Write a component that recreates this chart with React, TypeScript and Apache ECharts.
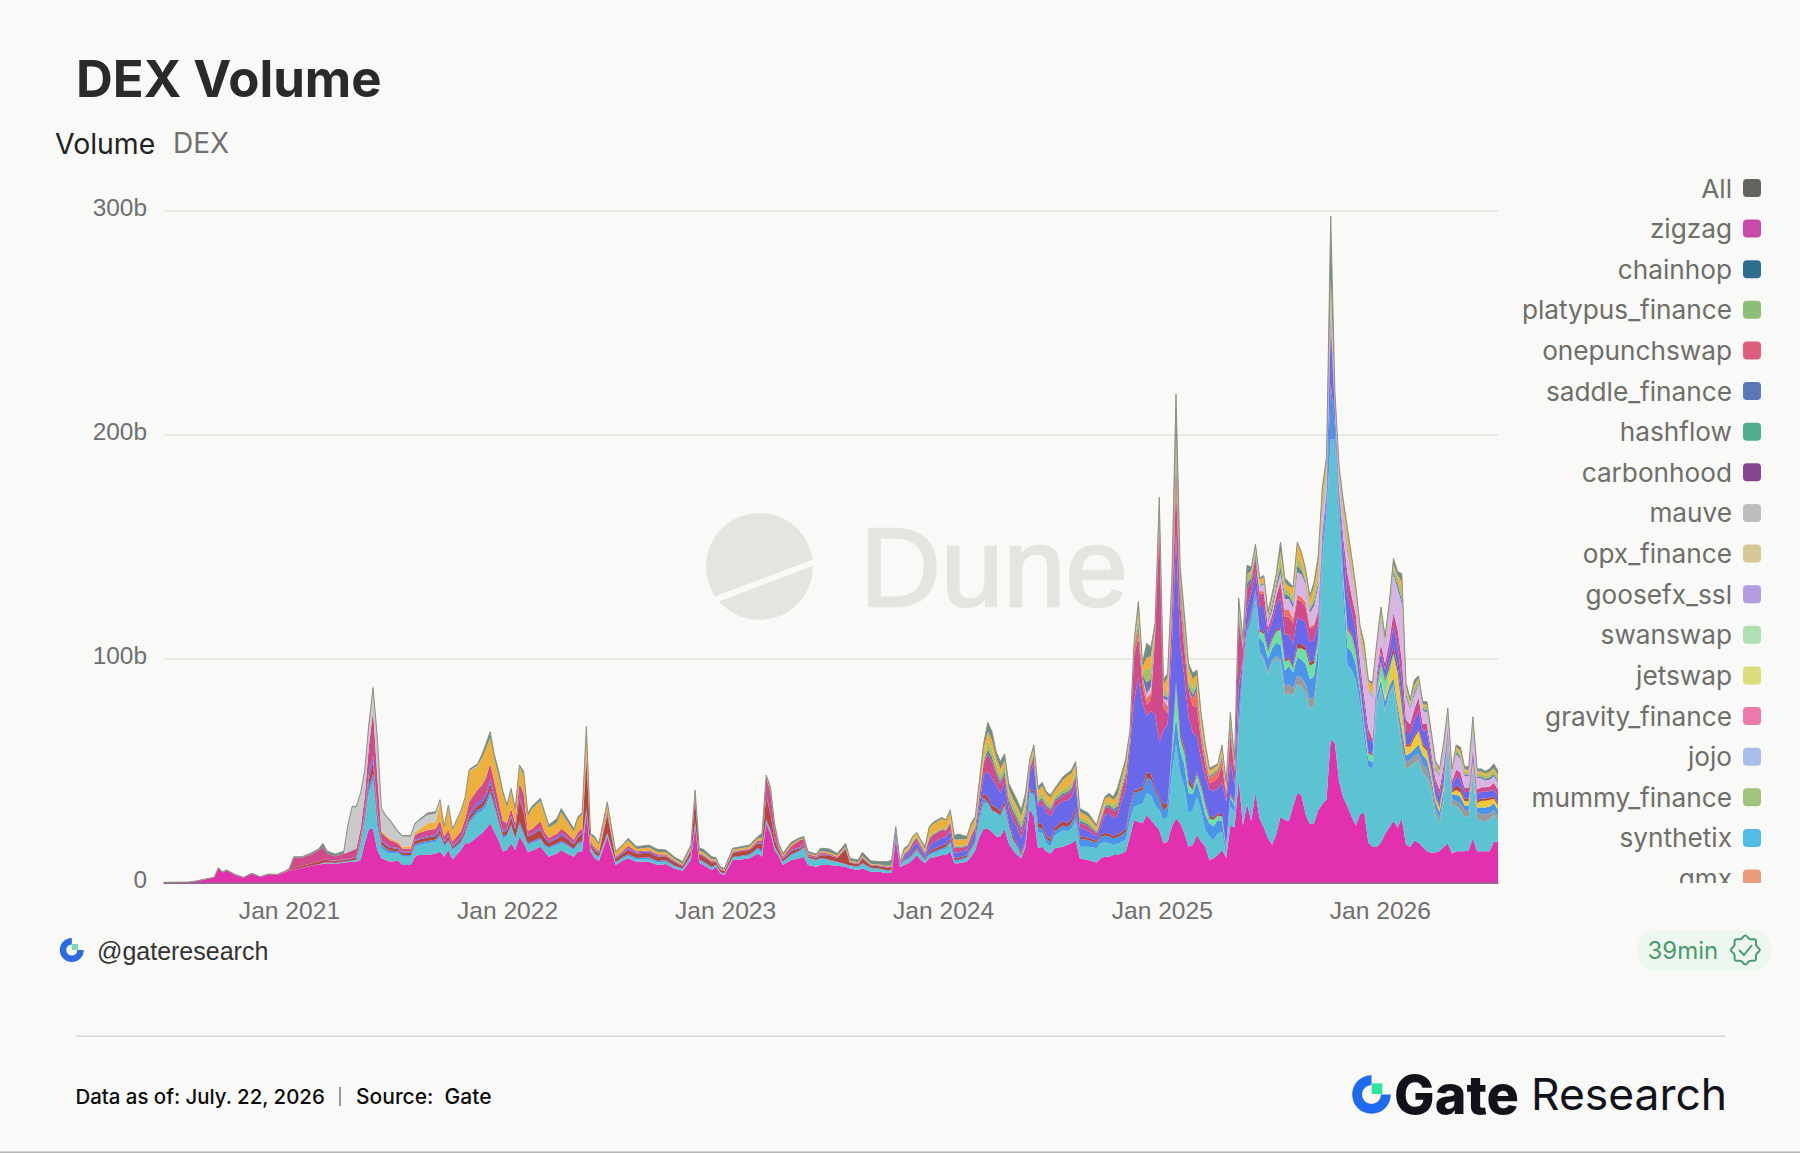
import React, { useEffect, useRef } from "react";
import * as echarts from "echarts";

const BG = "#F9F9F7";
const blank = (n: number): number[] => new Array(n).fill(0);

// Weeks counted from the first bar of the chart (5 Jun 2020); ten per line in every array below.
const weeks = [
  0,6,8,10,12,13,14,15,17,19,
  21,23,25,27,29,30,31,33,35,37,
  38,39,41,43,44,45,46,47,48,49,
  50,51,52,53,54,56,57,59,60,61,
  63,65,66,67,68,69,71,72,73,75,
  76,77,78,79,80,81,82,83,84,85,
  86,87,88,90,91,92,94,95,96,98,
  99,100,101,102,103,104,106,108,110,111,
  113,116,118,120,122,124,126,127,128,129,
  131,132,133,134,136,138,140,142,143,144,
  145,146,147,148,150,152,153,154,156,157,
  159,161,163,164,166,167,169,171,173,174,
  175,176,177,178,179,180,181,182,183,184,
  186,187,188,189,190,192,193,194,195,196,
  197,198,199,200,201,202,203,204,205,206,
  207,208,209,210,211,212,213,215,216,217,
  218,219,221,223,224,225,226,227,228,229,
  230,231,232,233,234,235,236,237,238,239,
  240,241,242,243,244,245,246,247,248,249,
  250,251,252,253,254,255,256,257,258,259,
  260,261,262,263,264,265,266,267,268,269,
  270,271,272,273,274,275,276,277,278,279,
  280,281,282,283,284,285,286,287,288,289,
  290,291,292,293,294,295,296,297,298,299,
  300,301,302,303,304,305,306,307,308,309,
  310,311,312,313,314,315,316,317,318,319,
];

const allVolume = [
  0.1,0.2,0.8,1.6,2.3,6.6,4.8,5.6,3.6,2.3,
  4.1,2.6,3.8,3.6,5.1,6.3,11.5,11.5,13,15,
  17.5,14,12.7,14,26,34,34,40,50,71,
  87,65,33,30,28,22.7,21,21,26.4,28,
  31,31.6,37,25,34.6,24,32,38,50.5,53,
  57,62,67.3,57,50,41,34.6,42,33,52.5,
  49.5,31,34,37.6,31.6,25.7,28.6,33,30,24,
  29.4,31,69.6,22,20.5,17.5,36,13.8,17.5,19.7,
  16,16.7,14.8,14.5,11.5,9.3,16.7,41.3,15.3,14.8,
  11.5,11,7,6.3,15.3,16,16.7,20.5,22,48,
  42.8,26.4,17.5,13,18,20,20.5,13.8,12.7,15.3,
  15,13,17.5,10.8,10,13.5,9.7,9.3,9.3,10,
  25,9.3,15.3,16.7,20.5,22.3,19,16,25,27,
  29,28,32.4,21,21.6,20.5,26.4,29.4,45.8,62,
  71.5,67.3,58.4,54,57.4,44.3,40.5,36.8,32.4,39.8,
  54.7,61.4,42.8,44.7,40.5,39,42,47.2,48.7,50.2,
  54,33,31,25.7,32.4,38.3,39.8,38.3,42,48.7,
  55.4,68,108,125.4,97.8,106.8,105,115.7,172,90.4,
  93.4,135,218,141,120,97.8,93.4,94.9,75.5,62,
  51,52,53,61.4,45,76,54.6,127,108.8,141.7,
  140.7,151,136,137,121,129,138,152,136,134,
  132,152,147.5,139.8,128,134,145.6,176.5,190,297.5,
  219,186,170.7,158,145.6,132,114.6,106.9,90.4,89.4,
  106.9,123,109.8,125,144.6,138.8,137.8,89.4,81.7,90.4,
  92.3,80.7,80.7,68,54.6,50.7,62.3,77.8,50.7,61.4,
  60.4,51.7,51.7,74,50.7,50.7,49.7,50.7,53,49.7,
];

const magentaLayer = [
  0,0.2,0.7,1.5,2.2,6.2,4.5,5.3,3.3,2.1,
  3.8,2.4,3.5,3.3,4.6,5.2,5.6,6.6,7.4,8,
  8.3,8.6,8.3,8.9,9,9.3,9.3,10,17.5,24,
  24,14.5,10.8,10,9.3,9.7,7.8,7.8,11.5,12.3,
  12.3,13,13.8,11.5,14.5,10.3,14.5,17.5,17.5,20.5,
  22,24,26.4,22.7,19,13.8,14.5,17.5,14.5,20.5,
  17.5,13.5,14.2,16,13.8,11.5,13,14.5,13.3,11.5,
  13.8,13.8,31,13.8,10.8,9.6,20.5,7.8,10,10.8,
  9.3,9.3,7.8,8.3,6.3,5.3,10,25,8.8,7.8,
  5.6,7,4.1,3.3,10,10.3,10.8,13,11.5,26.4,
  22,14.5,11.8,7.8,10,10.8,11.5,7.8,7,7.8,
  7.8,7.5,7,6.3,5.6,6.3,4.8,4.8,4.1,4.4,
  19,6.8,7.8,8.6,10,12.3,10,8.6,10.8,11.2,
  12.3,12.3,13.8,8.6,8.6,9.3,11.5,14.5,20.5,24,
  24,22.7,20.5,20.5,24,17.5,14.5,12.3,10.8,16,
  33,29.4,15.3,16,13.8,13,15.3,16,16.7,17.5,
  19,10.8,10,8.9,10.8,11.5,11.5,12.3,12.3,13,
  13.8,20.5,27.9,27,26.4,30,27.9,25.7,23.4,17.5,
  18.2,24.9,28.6,26.4,21.9,16,16.7,21.2,18.2,16,
  10,10.8,12.3,14.5,11,25.5,24.6,46,25.5,35,
  27.5,40,28.5,24.6,19.7,16.8,21.7,29.4,27.9,27.5,
  34,40,39,30.4,26,26.5,32.3,35,37,64,
  62,45,38,34,29.4,25.5,30.4,31.4,17.8,15.9,
  15.9,17.8,21.7,24.6,27.5,24.6,28.5,16.8,15.9,18.8,
  17.8,15.9,13.9,13.4,13.4,13.9,15.9,17.4,13,13.9,
  13.9,13.9,14.3,19.7,13.9,13.9,13.9,13.9,18.2,18.2,
];

const cyanLayer = [
  ...blank(20),
  0.2,0.2,0.2,0.3,0.3,0.4,0.6,7.5,10,16,
  21.7,10.5,4.5,3.8,3.7,3.3,3.7,3.7,4.5,4.4,
  5.2,5.2,6.7,4.5,3.7,4.2,3,3.7,9,10.5,
  9.6,10,12.7,10.4,7.5,6,6,7.5,4.5,5.2,
  3.5,3.2,3.3,3,2.4,3.8,3.7,3,3.5,3,
  3.2,3.7,1,1.5,1.5,1.5,1,1,1,1,
  1,1.2,1.2,1,0.8,0.6,1.4,1,1,1,
  0.8,0.6,0.4,0.5,1,1.2,1.2,1.8,1.8,1,
  1,1,0.8,1.2,2,3,4,3,2.8,2.8,
  2,1.5,1,1,1.2,2,1.5,1.2,1,1,
  0.6,0.6,1.6,1.8,2,2,1.8,1.2,1.4,1.8,
  2.2,2.9,3.7,1,1,1.5,3,3,7.5,11.3,
  11.3,9,10.5,9,10,7.5,4.5,3.7,1,1.5,
  7,9.6,7.4,6,3.7,3,5.7,7.4,6,6.5,
  9,5.2,6,6.4,6.7,6.5,6,4.4,4.9,5.2,
  5.2,7.4,6,7.6,8.9,9.8,11.1,8.9,9,10.4,
  11.2,23.8,33.4,22.3,20.9,14.9,15.7,17.1,14.2,7.4,
  10.5,8.2,9.6,8,1,8.5,6.4,22,69.5,76.7,
  89,87,74.5,74.4,73.3,81.2,78.3,69.6,55.7,57.1,
  49.6,48.5,48.5,54.2,51.8,52.3,62.7,110.6,128,133.8,
  135.8,120,88,63,65.6,64.9,49.4,32.9,33.9,34.8,
  61.9,68.7,54.2,59,60,49.4,30,33.9,35.8,34.8,
  36.8,32.9,32.9,27.6,17,12.6,20.3,44.6,21.3,20.4,
  18.4,15.5,15.1,29.1,14.6,13.6,13.6,14,12.2,9.3,
];

const grayLayer = [
  ...blank(200),
  0,0,0,1,1,1.5,1,1,4,4,
  3,4,4,4,4,4,2,0,0,0,
  ...blank(10),
  1,1,1,1,1,2,4,3,3,3,
  3,4,4,3,3,2,2,1,3,2,
  3,3,3,1,3,3,3,3,2,2,
];

const blueLayer = [
  ...blank(16),0.1,0.1,0.1,0.2,
  0.3,0.2,0.2,0.2,0.2,0.2,0.3,0.4,0.8,3,
  3,2.5,1.5,1.5,1.2,1,0.8,0.8,1,1,
  1,1,1.2,0.8,0.8,0.6,0.8,1,1.2,1.5,
  1.6,1.8,2,1.8,1.2,1,0.8,1,0.8,1.5,
  1.2,0.8,0.8,1,0.8,0.6,0.8,1,0.8,0.6,
  0.8,1,1,0.4,0.6,0.5,0.6,0.4,0.7,0.8,
  0.6,0.8,0.6,0.6,0.5,0.3,0.6,1,0.5,0.6,
  0.5,0.4,0.3,0.2,0.4,0.4,0.5,0.7,1,1,
  0.8,0.6,0.4,0.3,0.6,0.5,0.5,0.3,0.3,0.4,
  0.4,0.3,0.3,0.3,0.3,0.4,0.3,0.3,0.3,0.3,
  0.3,0.2,0.4,0.4,0.5,0.5,0.4,0.3,0.6,0.8,
  0.8,0.8,0.8,0.6,0.6,0.6,0.6,0.8,2,2.5,
  0.6,0.5,0.5,0.5,0.5,0.4,0.4,0.3,0.3,0.3,
  1,1,2,2,2,2,2,2,2,2.5,
  3,3.5,3,2.5,2.8,3,3,3,3,3,
  3.5,5,6,6,6,7,7,6,5,4,
  5,8,12,10,10,9,7,7,6,7,
  6,6,6,5,3,4,3,6,2,2,
  3,3,6,7,6,5,6,6,7,8,
  7,8,8,9,9,9,8,6,5,25,
  6,4,8,8,8,7,5,5,3,3,
  4,3,4,3,3,3,6,3,3,3,
  4,4,4,3,3,3,3,1,2,3,
  3,2,2,2,2,3,3,3,3,3,
];

const yellowLayer = [
  ...blank(230),
  0,1,2,5,9,13,7,4,3,5,
  6,4,4,3,2,2,2,1,1,2,
  2,2,2,2,2,3,3,3,2,2,
];

const mintLayer = [
  ...blank(180),
  0,2,14,6,5,4,2,3,4,4,
  2,3,2,2,0.5,1,1,0,0,0,
  0,0,3,4,3,4,5,7,4,3,
  2,4,5,6,6,6,3,0,0,0,
  0,0,3,8,7,5,2,2,3,3,
  3,6,7,3,2,2,3,0,0,0,
  ...blank(20),
];

const brownLayer = [
  ...blank(14),0.1,0.2,0.8,0.8,0.9,1.2,
  1.2,1,0.8,0.8,0.8,0.9,1,1.5,2,3,
  5,3,1.5,1.5,1.3,1,1,1,1.5,1.5,
  1.6,1.6,1.8,1.2,1.5,1,1.2,1.5,1.8,2,
  2.2,2.4,3,2.5,2,1.5,2,3,4,10,
  9,3,3,3.5,3,2,2,2.5,2.5,2,
  2.5,3,22,1.5,1.5,1.5,8,1.5,1.6,2,
  2,2,2,1.8,1.6,1.2,2,10,2.2,2.2,
  2,1.2,1,1,1.8,2,2,2,3,10,
  7,3,1.6,1.2,1.5,1,1,0.6,0.8,1.2,
  2,1.6,6.5,1.2,1,2,1,1,1.2,1.2,
  0.3,0.3,0.5,0.6,0.8,0.8,0.7,0.5,1,1.2,
  1.2,1.2,1.2,0.8,0.8,0.8,0.8,1,1.5,2,
  2.5,2.2,2,1.8,2,1.5,1.5,1.2,1,1,
  0.8,0.8,2,2,1.5,1.3,1.5,2,1.8,1.8,
  2,1.2,1,0.8,1,1.2,1.2,1.2,1.3,1.3,
  1.5,1.5,1.5,1,1.5,2.5,2.5,1.5,1,3,
  1,1,1.5,2,2,2,1.5,1,1,1,
  1,1,1,1,0.5,1,0.5,1,1,1,
  1,1,1,1,1,1,1,1,1,1,
  1,2,2,1.5,1.5,1.5,1,0,0,0,
  0,0,0,1,1,1,1,1,1,0.5,
  1,1,1,2,3,3,3,1,1,1,
  1,1,1,1,1,1,1,1,1,2,
  2,1,1,1,1,1,1,1,1,1,
];

const indigoLayer = [
  ...blank(20),
  0.2,0.2,0.2,0.2,0.2,0.3,0.4,0.6,1,3,
  3,2,0.5,0.5,0.5,0.4,0.4,0.4,0.5,0.5,
  0.6,0.6,1,0.5,0.5,0.4,0.6,1,1.2,1.4,
  1.5,1.6,2,1.6,1.2,0.8,0.6,0.8,0.5,1,
  0.8,0.6,0.6,0.8,0.6,0.5,0.8,1,0.6,0.5,
  0.6,0.6,1,0.4,0.5,0.3,0.5,0.3,0.5,0.6,
  0.5,0.6,0.5,0.4,0.3,0.2,0.4,0.8,0.3,0.4,
  0.3,0.2,0.1,0.1,0.3,0.3,0.3,0.5,0.6,0.6,
  0.5,0.4,0.2,0.2,0.4,0.4,0.4,0.2,0.2,0.3,
  0.3,0.2,0.2,0.2,0.2,0.3,0.2,0.2,0.2,0.2,
  2.5,0.4,1.2,1.5,2.5,2.5,2,1.5,2.5,3,
  3.5,3,3.5,2.5,2.5,2.2,2.8,3,3.5,8,
  11,12,10,8,8,6,7,7,6.5,7,
  7,12,7,9,10,10,9,9,10,10,
  11,4,3,2,4,8,9,8,8,14,
  18,26,40,50,37,25,28,33,24,33,
  35,45,66,40,32,28,24,16,12,12,
  12,12,11,14,20,14,8,12,2,8,
  9,8,10,11,7,7,11,13,11,10,
  10,12,11,11,9,9,7,3,3,25,
  6,4,12,14,10,9,6,7,6,5,
  3,4,4,6,9,8,9,5,5,7,
  8,6,8,5,4,4,5,2,2,4,
  4,3,3,3,3,3,3,3,3,3,
];

const crimsonLayer = [
  ...blank(14),0.2,0.6,4.5,3.6,4,5,
  5.5,2.6,2,2.4,3,3.2,3.5,4,7,12,
  20,15,3.5,3.2,3,2,1.5,1.5,2.2,2.5,
  2.6,2.6,3.2,2,2.5,1.8,2.8,3.5,5.5,5.5,
  6.5,7,7,6,5.5,4.5,2.5,3.2,2,6,
  8,2,2,3,2,1.5,1.5,2,2,1.5,
  1.6,1.8,2,0.6,0.8,0.6,1.5,0.5,0.8,1.2,
  0.5,0.5,0.5,0.4,0.3,0.2,0.4,0.8,0.3,0.4,
  0.4,0.3,0.2,0.1,0.3,0.3,0.4,0.8,1,8,
  9,5,1.2,0.8,1.8,3.2,2,0.8,0.5,1,
  0.5,0.4,0.4,0.3,0.3,0.4,0.2,0.2,0.3,0.3,
  1.2,0.3,1,1.2,1.6,1.6,1.2,1,3,3.2,
  3.5,3,3.5,2,2,1.6,2,2.2,3.5,5,
  8,7.5,5,4,3.5,3,3,3,3,3.5,
  2,3,1.5,2,2.5,2.5,2.5,2.5,3,3,
  3,2,2,1.4,2,3,3,3,3,4,
  5,4,20,18,8,5,5,35,95,10,
  5,15,22,18,12,12,12,13,8,5,
  3,4,5,8,3,12,6,30,4,8,
  5,6,6,6,3,3,4,7,8,8,
  9,8,8,7,6,6,5,2,2,5,
  2,3,5,10,7,7,5,4,4,1.5,
  3,4,3,4,6,8,9,6,4,5,
  6,3,3,3,3,3,3,1,2,3,
  3,2,2,2,2,2,2,2,3,3,
];

const coralLayer = [
  ...blank(170),
  0,0,3,4,4,3,3,0,5,4,
  3,5,10,6,4,0,3,8,3,3,
  2,3,3,3,1,3,1,0,0,0,
  0,0,1,1,0,0,0,1,3,3,
  2,2,2,2,1,1,1,0,0,0,
  ...blank(40),
];

const lavenderLayer = [
  ...blank(170),
  0,0,0,0,0,2,3,0,0,0,
  3,0,0,0,0,0,0,0,0,0,
  ...blank(10),
  0,0,2,3,2,2,3,3,5,5,
  5,10,10,8,6,8,10,8,6,5,
  3,4,8,10,10,7,10,15,17,19,
  11,11,8,13,17,18,25,10,7,6,
  6,6,5,5,4,6,6,5,3,7,
  6,5,5,8,5,4,3,3,3,3,
];

const slateLayer = [
  ...blank(120),
  0.2,0.1,0.3,0.3,0.4,0.4,0.4,0.3,0.4,0.4,
  0.3,0.3,0.4,0.3,0.3,0.3,0.4,0.4,0.8,1,
  2,2,1.5,1.5,1.5,1.5,1.5,1.5,2,2,
  0.5,1,1,1,1,1,1,1,1,1,
  1,1,1,0.5,0.8,0.7,1,1,1.5,1.5,
  1.5,0.5,1,2,1,5,3.5,1.5,2,1.5,
  1.5,3,6,3,3.5,2,2,1.5,1.5,1,
  0.8,0.8,0.5,1,0.8,1.5,1,2,1,3,
  1.5,1.5,0.5,0.5,1,2,2,3,2,1.5,
  2,3,2,1,1.5,2,2,1.5,1,3,
  0.5,1,1.5,1.5,1,0.6,0.6,1.5,0.4,0.6,
  0.5,1,0.8,1,1.5,2,2,1.5,0.8,1.5,
  0.7,0.7,1,0.5,0.8,0.6,0.8,0.8,0.4,1,
  1,0.8,0.8,1.2,0.8,0.8,0.8,1,1,1,
];

const oliveLayer = [
  ...blank(120),
  0.3,0.1,0.6,0.5,0.8,0.6,0.6,0.5,0.6,0.6,
  0.6,0.6,0.8,0.6,0.6,0.6,0.8,0.8,1.2,1.5,
  4,3.5,3,3,3,2.5,3,3,3,3,
  1,1.5,2,2,2,2,1.5,2,2,2,
  1.5,1.5,1.5,0.8,1,1,1.3,1.5,2.5,2,
  2.5,0.8,1.5,3,1.5,6,5,2,3,2,
  2.5,4,8,4,5,3,3,2,2.5,1.5,
  1.2,1.2,1,1.5,1.2,2.5,1.5,3,2,4,
  2,2,0.8,0.8,1.5,2.5,2.5,5,2.5,2,
  3,4,3,1.5,2,2.5,3,2,2,4,
  0.8,1.5,2,2,1.5,1,1,2,0.6,1,
  0.8,1.5,1,1.2,2,3,3,2,1,2,
  1,1,1.5,0.8,1.2,0.8,1.2,1,0.5,1.3,
  1.5,1.2,1.2,2,1.2,1.2,1.2,1.5,1.5,1.5,
];

const goldLayer = [
  ...blank(30),
  0,1,0.8,0.8,0.8,0.8,0.8,1,1.2,1.5,
  3,3,8.5,3.5,10,4.8,8.3,9.5,13.5,10.5,
  12,13,11.5,10,11.5,12,7,8,6,7.5,
  8,6.5,9,9.2,7.6,4.5,5,7.5,5.8,3.6,
  6,6.5,9,3,3.8,2.8,2.8,1.8,2.6,2.4,
  1,1.2,1,1,0.8,0.6,0.8,0.8,1,1,
  0.8,0.6,0.3,0.4,0.8,0.8,0.8,0.8,1,0.5,
  0.5,0.5,0.6,0.6,0.8,0.4,0.4,0.4,0.4,0.5,
  0.6,0.5,0.6,0.4,0.4,0.5,0.4,0.3,0.4,0.4,
  0.3,0.2,1,1.2,1.5,1.4,1.2,0.8,4,4,
  4,3.5,4,2.8,2.8,2.4,3.2,2.8,4,5,
  4,4,3,2.5,2,2,2,2,2,2.5,
  1.5,1.5,3,3,3,3,2.5,4,5,4.5,
  3,2.5,2,1.4,2,2.5,2.5,2.5,2.5,2.5,
  2.5,1.5,0,3,2,5,5,0,0,3,
  6,0,0,0,0,5,4,3,3,3,
  1.5,1,1,2,2,1,1,2,0,0,
  1,1,2,2,1,1,1,2,3,2,
  4,6,5,3,3,4,6,6,4,5,
  2,2,3,5,4,3,3,3,3,4,
  1,1,1,1,1,1,5,1,1,1,
  1,1,1,1,1,1,1,1,1,1,
  1,1,1,1,1,1,1,1,1,1,
];

const lightGrayLayer = [
  ...blank(24),
  12,19.3,18.5,15.5,11,9.5,
  9.5,15,9.3,8.2,7.7,3.9,4.5,4.2,3.5,3.8,
  4,3.8,0.4,0.2,0.3,0.2,0.2,0.1,0.2,0.3,
  ...blank(210),
];

const layers: [string, string, number[]][] = [
  ["layerMagenta", "#E230AE", magentaLayer],
  ["layerCyan", "#5CC3D2", cyanLayer],
  ["layerGray", "#9A9A9E", grayLayer],
  ["layerBlue", "#4A94EA", blueLayer],
  ["layerYellow", "#EFC93C", yellowLayer],
  ["layerMint", "#6EE0A0", mintLayer],
  ["layerBrown", "#B5453F", brownLayer],
  ["layerIndigo", "#6A68EA", indigoLayer],
  ["layerCrimson", "#D14A8C", crimsonLayer],
  ["layerCoral", "#F0705A", coralLayer],
  ["layerLavender", "#D9B5E6", lavenderLayer],
  ["layerSlate", "#5F7FA8", slateLayer],
  ["layerOlive", "#A8C060", oliveLayer],
  ["layerGold", "#EDB03C", goldLayer],
  ["layerLightGray", "#CACACA", lightGrayLayer],
];

const legendNames = ["All","zigzag","chainhop","platypus_finance","onepunchswap","saddle_finance","hashflow","carbonhood","mauve","opx_finance","goosefx_ssl","swanswap","jetswap","gravity_finance","jojo","mummy_finance","synthetix","gmx"];
const legendColors = ["#62625E","#C84BA8","#2E6E8E","#8CBE78","#DE5C7C","#5A78B4","#4EAE8C","#84448E","#BDBDBD","#D6C896","#B49AE0","#AEE0B4","#DCDC78","#EC78AC","#A8BEE8","#A0C47C","#50BCE8","#EC9C78"];

const START = Date.UTC(2020, 5, 5);
const WEEK = 7 * 24 * 3600 * 1000;
const dates = weeks.map((w) => START + w * WEEK);

const ICON = "path://M4 0H14A4 4 0 0 1 18 4V14A4 4 0 0 1 14 18H4A4 4 0 0 1 0 14V4A4 4 0 0 1 4 0Z";

function txt(text: string, x: number, y: number, fontSize: number, fill: string, extra: any = {}) {
  return {
    type: "text", x, y, z: 6,
    style: { text, fontSize, fill, fontFamily: "Inter", fontWeight: 400, textAlign: "left", textVerticalAlign: "middle", ...extra },
  };
}

function badgePoints(cx: number, cy: number) {
  const pts: number[][] = [];
  for (let i = 0; i < 16; i++) {
    const r = i % 2 === 0 ? 14.5 : 11.8;
    const a = (i * Math.PI) / 8;
    pts.push([cx + r * Math.cos(a), cy + r * Math.sin(a)]);
  }
  return pts;
}

function xLabel(v: number) {
  const d = new Date(v);
  return d.getUTCMonth() === 0 && d.getUTCDate() === 1 ? `Jan ${d.getUTCFullYear()}` : "";
}

export default function App() {
  const ref = useRef<HTMLDivElement>(null);
  useEffect(() => {
    document.body.style.margin = "0";
    const chart = echarts.init(ref.current!, undefined, { renderer: "svg" });
    const stacked = layers.map(([name, color, values]) => ({
      name, type: "line", stack: "dex", stackStrategy: "all", color, symbol: "none", showSymbol: false,
      lineStyle: { width: 0 }, areaStyle: { color, opacity: 1 }, silent: true,
      data: dates.map((d, i) => [d, values[i] ?? 0]),
    }));
    const rest = allVolume.map((t, i) => Math.max(0, t - layers.reduce((s, l) => s + (l[2][i] ?? 0), 0)));
    const top = {
      name: "layerTop", type: "line", stack: "dex", stackStrategy: "all", color: "#6F8E84", symbol: "none", showSymbol: false,
      lineStyle: { width: 1, color: "#8F8F86" }, areaStyle: { color: "#6F8E84", opacity: 1 }, silent: true,
      data: dates.map((d, i) => [d, rest[i]]),
    };
    const legendOnly = legendNames.map((name, i) => ({
      name, type: "line", color: legendColors[i], symbol: "none", showSymbol: false, data: [] as number[][],
    }));
    const bluePure = "#1F6BF0";
    chart.setOption({
      animation: false,
      useUTC: true,
      backgroundColor: BG,
      grid: { left: 164, right: 302, top: 210.5, bottom: 270.5, containLabel: false },
      legend: {
        type: "plain", orient: "vertical", align: "right", right: 39, top: 175, padding: 0,
        itemWidth: 18, itemHeight: 18, itemGap: 14.62, icon: ICON, selectedMode: false,
        data: legendNames,
        textStyle: { fontFamily: "Inter", fontSize: 26.2, color: "#6E6E6A", padding: [0, 6, 0, 0] },
      },
      xAxis: {
        type: "time", min: START, max: START + 319 * WEEK, splitNumber: 6,
        axisLine: { show: true, lineStyle: { color: "#7B3A78", width: 1.5 } },
        axisTick: { show: false }, splitLine: { show: false }, minorTick: { show: false },
        axisLabel: {
          formatter: xLabel, hideOverlap: false, showMinLabel: true, showMaxLabel: true,
          fontFamily: "Liberation Sans", fontSize: 24.6, color: "#6F6F6F", margin: 15,
        },
      },
      yAxis: {
        type: "value", min: 0, max: 300, interval: 100,
        axisLine: { show: false }, axisTick: { show: false },
        splitLine: { show: true, lineStyle: { color: "#E3E3E0", width: 1.5 } },
        axisLabel: {
          formatter: (v: number) => (v === 0 ? "0" : `${v}b`),
          fontFamily: "Liberation Sans", fontSize: 24.4, color: "#6F6F6F", margin: 17,
          verticalAlign: "bottom", lineHeight: 6,
        },
      },
      series: [...stacked, top, ...legendOnly],
      graphic: { elements: [
        // Dune watermark
        { type: "circle", z: 0, shape: { cx: 759.5, cy: 566.4, r: 53.5 }, style: { fill: "#E4E4E1" } },
        { type: "line", z: 0, shape: { x1: 700, y1: 605.5, x2: 820, y2: 560 }, style: { stroke: BG, lineWidth: 6 } },
        { type: "text", z: 0, x: 860, y: 567, style: { text: "Dune", fontFamily: "Liberation Sans", fontSize: 112, fill: "#E4E4E1", stroke: "#E4E4E1", lineWidth: 2.5, textAlign: "left", textVerticalAlign: "middle" } },
        // headings
        txt("DEX Volume", 76, 78, 50.9, "#2A2A2A", { fontWeight: 700 }),
        txt("Volume", 55, 143, 28.4, "#222222"),
        txt("DEX", 173, 143, 28, "#707070"),
        // clip of the legend
        { type: "rect", z: 10, shape: { x: 1515, y: 883, width: 255, height: 30 }, style: { fill: BG } },
        // handle
        { type: "sector", z: 6, shape: { cx: 71.8, cy: 950, r: 12, r0: 5.6, startAngle: 0, endAngle: Math.PI * 1.5, clockwise: true }, style: { fill: "#2B6AE0" } },
        { type: "rect", z: 6, shape: { x: 71.8, y: 944, width: 6.2, height: 6 }, style: { fill: "#7ADBB0" } },
        txt("@gateresearch", 97, 950.5, 25, "#333333", { fontFamily: "Liberation Sans" }),
        // freshness badge
        { type: "rect", z: 6, shape: { x: 1636.7, y: 930, width: 135, height: 40.7, r: 20 }, style: { fill: "#EEF7EF" } },
        txt("39min", 1647.5, 950, 24, "#4A9A6E"),
        { type: "polygon", z: 7, shape: { points: badgePoints(1745.3, 950), smooth: 0.4 }, style: { fill: "none", stroke: "#4A9A6E", lineWidth: 2 } },
        { type: "polyline", z: 7, shape: { points: [[1739, 950], [1744, 955], [1752, 945]] }, style: { fill: "none", stroke: "#4A9A6E", lineWidth: 2 } },
        // footer
        { type: "line", z: 6, shape: { x1: 75.5, y1: 1036.3, x2: 1725, y2: 1036.3 }, style: { stroke: "#D6D6D4", lineWidth: 1.5 } },
        txt("Data as of: July. 22, 2026", 75.5, 1096.5, 20.4, "#0C0C0C", { fontWeight: 500 }),
        { type: "line", z: 6, shape: { x1: 340, y1: 1087, x2: 340, y2: 1106 }, style: { stroke: "#555555", lineWidth: 1.2 } },
        txt("Source:  Gate", 356, 1096.5, 21, "#0C0C0C", { fontWeight: 500 }),
        { type: "rect", z: 6, shape: { x: 0, y: 1151.4, width: 1800, height: 1.6 }, style: { fill: "#B5B5B5" } },
        // Gate Research wordmark
        { type: "sector", z: 6, shape: { cx: 1371.5, cy: 1094.5, r: 19.3, r0: 9.5, startAngle: 0, endAngle: Math.PI * 1.5, clockwise: true }, style: { fill: bluePure } },
        { type: "rect", z: 6, shape: { x: 1371.7, y: 1083.3, width: 10.6, height: 10.7 }, style: { fill: "#2EE6A0" } },
        txt("Gate", 1394, 1094, 54, "#12131A", { fontWeight: 800 }),
        txt("Research", 1531, 1094, 44.4, "#12131A", { fontWeight: 400 }),
      ] },
    });
    return () => chart.dispose();
  }, []);
  return <div ref={ref} style={{ position: "absolute", left: 0, top: 0, width: 1800, height: 1153 }} />;
}
